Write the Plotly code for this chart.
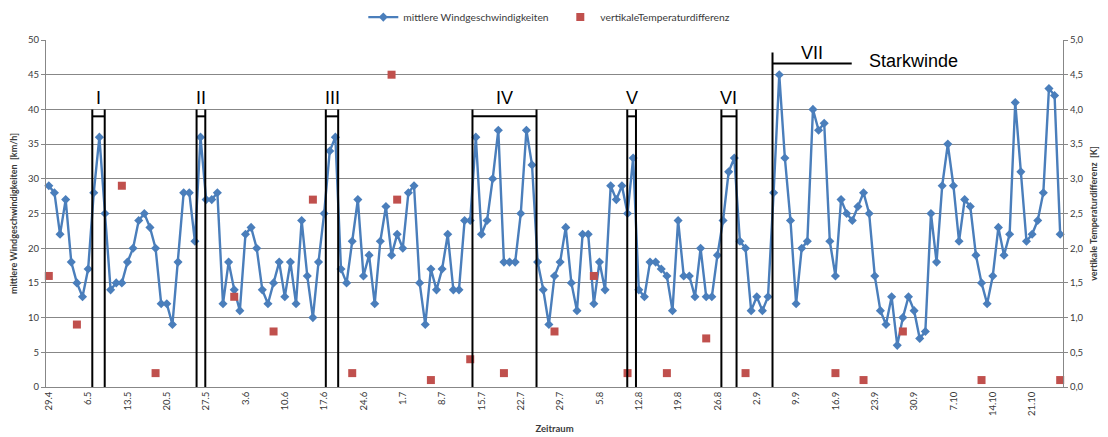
import pandas as pd
import plotly.graph_objects as go

# Tägliche Zeitachse 29.4. bis 26.10.
days = pd.date_range("2012-04-29", "2012-10-26", freq="D")
dates = [f"{d.day}.{d.month}" for d in days]
tick_labels = dates[::7]

# mittlere Windgeschwindigkeit je Tag [km/h]
wind_speed = [
    29, 28, 22, 27, 18, 15, 13, 17, 28, 36,
    25, 14, 15, 15, 18, 20, 24, 25, 23, 20,
    12, 12, 9, 18, 28, 28, 21, 36, 27, 27,
    28, 12, 18, 14, 11, 22, 23, 20, 14, 12,
    15, 18, 13, 18, 12, 24, 16, 10, 18, 25,
    34, 36, 17, 15, 21, 27, 16, 19, 12, 21,
    26, 19, 22, 20, 28, 29, 15, 9, 17, 14,
    17, 22, 14, 14, 24, 24, 36, 22, 24, 30,
    37, 18, 18, 18, 25, 37, 32, 18, 14, 9,
    16, 18, 23, 15, 11, 22, 22, 12, 18, 14,
    29, 27, 29, 25, 33, 14, 13, 18, 18, 17,
    16, 11, 24, 16, 16, 13, 20, 13, 13, 19,
    24, 31, 33, 21, 20, 11, 13, 11, 13, 28,
    45, 33, 24, 12, 20, 21, 40, 37, 38, 21,
    16, 27, 25, 24, 26, 28, 25, 16, 11, 9,
    13, 6, 10, 13, 11, 7, 8, 25, 18, 29,
    35, 29, 21, 27, 26, 19, 15, 12, 16, 23,
    19, 22, 41, 31, 21, 22, 24, 28, 43, 42,
    22,
]

# vertikale Temperaturdifferenz an einzelnen Messtagen [K]
temp_dates = [
    "29.4", "4.5", "12.5", "18.5", "1.6", "8.6", "15.6", "22.6",
    "29.6", "30.6", "6.7", "13.7", "19.7", "28.7", "4.8", "10.8",
    "17.8", "24.8", "31.8", "16.9", "21.9", "28.9", "12.10", "26.10",
]
temp_diff = [
    1.6, 0.9, 2.9, 0.2, 1.3, 0.8, 2.7, 0.2,
    4.5, 2.7, 0.1, 0.4, 0.2, 0.8, 1.6, 0.2,
    0.2, 0.7, 0.2, 0.2, 0.1, 0.8, 0.1, 0.1,
]

# Markierte Zeiträume (Lage auf der Tagesachse)
period_names = ["I", "II", "III", "IV", "V", "VI"]
period_start = [7.74, 26.3, 49.3, 75.4, 102.95, 119.7]
period_end = [9.95, 27.85, 51.5, 86.8, 104.5, 122.4]
strong_start, strong_bar_end = 128.8, 142.9

FONT = "Lato"
TEXT = "#3a3a3a"
GRID = "#878787"
BLUE = "#4A7EBB"
RED = "#C0504D"

fig = go.Figure()

fig.add_trace(go.Scatter(
    x=dates, y=wind_speed, name="mittlere Windgeschwindigkeiten",
    mode="lines+markers",
    line=dict(color=BLUE, width=2.4),
    marker=dict(symbol="diamond", size=7, color=BLUE),
    cliponaxis=False,
))
fig.add_trace(go.Scatter(
    x=temp_dates, y=temp_diff, name="vertikaleTemperaturdifferenz",
    mode="markers", yaxis="y2",
    marker=dict(symbol="square", size=8, color=RED),
    cliponaxis=False,
))

shapes = []
annotations = []
line_style = dict(color="black", width=2)
for name, x0, x1 in zip(period_names, period_start, period_end):
    shapes.append(dict(type="line", xref="x", yref="y", x0=x0, x1=x0, y0=0, y1=40, line=line_style))
    shapes.append(dict(type="line", xref="x", yref="y", x0=x1, x1=x1, y0=0, y1=40, line=line_style))
    shapes.append(dict(type="line", xref="x", yref="y", x0=x0, x1=x1, y0=39, y1=39, line=line_style))
    annotations.append(dict(
        x=(x0 + x1) / 2, y=41.6, xref="x", yref="y", text=name, showarrow=False,
        font=dict(family="Liberation Sans", size=18, color="black"),
        xanchor="center", yanchor="middle",
    ))

# Starkwindphase VII
shapes.append(dict(type="line", xref="x", yref="y", x0=strong_start, x1=strong_start, y0=0, y1=48.2, line=line_style))
shapes.append(dict(type="line", xref="x", yref="y", x0=strong_start, x1=strong_bar_end, y0=46.6, y1=46.6, line=line_style))
annotations.append(dict(
    x=(strong_start + strong_bar_end) / 2, y=48.1, xref="x", yref="y", text="VII",
    showarrow=False, font=dict(family="Liberation Sans", size=18, color="black"),
    xanchor="center", yanchor="middle",
))
annotations.append(dict(
    x=145.6, y=47.0, xref="x", yref="y", text="Starkwinde", showarrow=False,
    font=dict(family="Liberation Sans", size=18, color="black"),
    xanchor="left", yanchor="middle",
))

fig.update_layout(
    width=1108, height=437,
    margin=dict(l=46, r=45, t=40, b=50, autoexpand=False),
    paper_bgcolor="white", plot_bgcolor="white",
    separators=",.",
    font=dict(family=FONT, size=9.5, color=TEXT),
    showlegend=True,
    legend=dict(
        orientation="h", x=0.312, y=1.066, xanchor="left", yanchor="middle",
        font=dict(family=FONT, size=10.3, color=TEXT),
        bgcolor="rgba(0,0,0,0)",
        entrywidth=152, entrywidthmode="pixels",
    ),
    xaxis=dict(
        type="category", categoryorder="array", categoryarray=dates,
        range=[-0.5, len(dates) - 0.5],
        tickmode="array", tickvals=tick_labels, ticktext=tick_labels,
        tickangle=-90, tickfont=dict(size=9.5, color=TEXT),
        showgrid=False, showline=True, linecolor=GRID, linewidth=1,
        ticks="", zeroline=False,
        title=dict(text="<b>Zeitraum</b>", font=dict(size=9.5, color=TEXT), standoff=10),
        automargin=False,
    ),
    yaxis=dict(
        range=[0, 50], dtick=5, tick0=0,
        showgrid=True, gridcolor=GRID, gridwidth=1,
        showline=True, linecolor=GRID, linewidth=1,
        ticks="outside", ticklen=4, tickcolor=GRID,
        tickfont=dict(size=9.5, color=TEXT), zeroline=False,
        title=dict(text="<b>mittlere Windgeschwindigkeiten  [km/h]</b>", font=dict(size=9, color=TEXT), standoff=8),
        automargin=False,
    ),
    yaxis2=dict(
        range=[0, 5], dtick=0.5, tick0=0, tickformat=".1f",
        overlaying="y", side="right",
        showgrid=False, showline=True, linecolor=GRID, linewidth=1,
        ticks="outside", ticklen=4, tickcolor=GRID,
        tickfont=dict(size=9.5, color=TEXT), zeroline=False,
        title=dict(text="<b>vertikale Temperaturdifferenz  [K]</b>", font=dict(size=9, color=TEXT), standoff=8),
        automargin=False,
    ),
    shapes=shapes,
    annotations=annotations,
)

fig.write_html("out.html")
